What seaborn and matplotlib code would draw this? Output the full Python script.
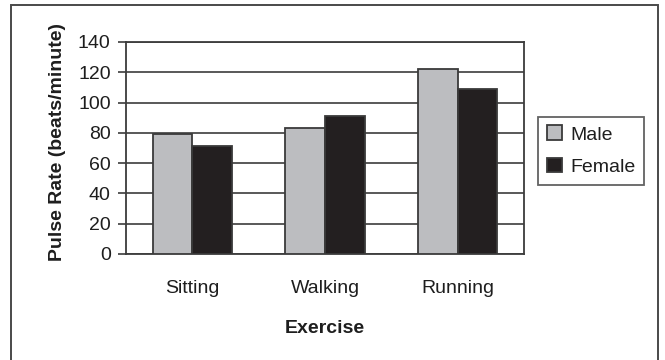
import matplotlib
matplotlib.use("Agg")
import matplotlib.pyplot as plt
from matplotlib.patches import Rectangle
import pandas as pd
import seaborn as sns

# Data
exercises = ["Sitting", "Walking", "Running"]
male = [79, 83, 122]
female = [71, 91, 109]
groups = ["Male", "Female"]
y_ticks = [0, 20, 40, 60, 80, 100, 120, 140]

df = pd.DataFrame({
    "Exercise": exercises * 2,
    "Pulse": male + female,
    "Sex": ["Male"] * len(exercises) + ["Female"] * len(exercises),
})

sns.set_theme(style="white")
plt.rcParams["font.family"] = ["Liberation Sans", "DejaVu Sans"]

fig = plt.figure(figsize=(6.65, 3.6), dpi=100)
fig.patch.set_facecolor("white")

# Outer frame around the whole chart
fig.patches.append(Rectangle((11 / 665, -0.02), (658 - 11) / 665, 1 - 5 / 360 + 0.02,
                             transform=fig.transFigure, fill=False,
                             edgecolor="#4a4a4a", linewidth=1.4, zorder=0))

ax = fig.add_axes([126 / 665, 1 - 254 / 360, (524 - 126) / 665, (254 - 42) / 360])

palette = {"Male": "#bcbdc0", "Female": "#231f20"}
sns.barplot(data=df, x="Exercise", y="Pulse", hue="Sex", hue_order=groups,
            order=exercises, palette=palette, width=0.6, gap=0,
            edgecolor="#3a3a3a", linewidth=1.3, saturation=1, ax=ax, zorder=3)

ax.set_ylim(0, 140)
ax.set_yticks(y_ticks)
ax.set_xlim(-0.5, 2.5)
ax.yaxis.grid(True, color="#3c3c3c", linewidth=1.2, zorder=0)
ax.xaxis.grid(False)
ax.set_axisbelow(True)

for s in ax.spines.values():
    s.set_visible(True)
    s.set_color("#3c3c3c")
    s.set_linewidth(1.3)

ax.tick_params(axis="y", which="both", left=True, length=6, width=1.2,
               color="#3c3c3c", pad=5, labelsize=14, labelcolor="#1e1e1e")
ax.tick_params(axis="x", length=0, pad=19, labelsize=14, labelcolor="#1e1e1e")

ax.set_xlabel("Exercise", fontsize=14, fontweight="bold", color="#1e1e1e", labelpad=16)
ax.set_ylabel("Pulse Rate (beats/minute)", fontsize=14, fontweight="bold",
              color="#1e1e1e")
ax.yaxis.set_label_coords(-0.15, 0.53)

leg = ax.legend(loc="upper left", bbox_to_anchor=(1.035, 0.648), frameon=True,
                fancybox=False, shadow=False, fontsize=14, handlelength=0.8,
                handleheight=0.8, handletextpad=0.4, borderpad=0.45,
                labelspacing=0.72, borderaxespad=0)
leg.get_frame().set_edgecolor("#3c3c3c")
leg.get_frame().set_linewidth(1.3)
for t in leg.get_texts():
    t.set_color("#1e1e1e")

fig.savefig("out.png", dpi=100, facecolor="white")
